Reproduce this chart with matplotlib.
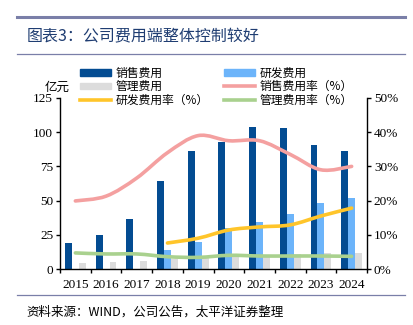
import matplotlib
matplotlib.use("Agg")
import matplotlib.pyplot as plt
import numpy as np
from matplotlib.lines import Line2D
from matplotlib.patches import Patch, PathPatch
from matplotlib.path import Path

plt.rcParams["font.family"] = ["Liberation Serif", "Noto Sans CJK SC"]

years = ["2015", "2016", "2017", "2018", "2019", "2020", "2021", "2022", "2023", "2024"]
sales_exp = [19, 25, 36.5, 64, 86.5, 93, 104, 103, 91, 86]
rd_exp = [0, 0, 0, 14, 20, 30, 34, 40, 48, 52]
admin_exp = [4.5, 5, 6, 7, 8, 9, 8.5, 11, 11.5, 11.5]
sales_rate = [19.9, 21.3, 26.6, 34.0, 39.0, 37.5, 37.5, 33.5, 29.0, 30.0]
rd_rate = [None, None, None, 7.6, 9.0, 11.4, 12.3, 12.9, 15.5, 17.8]
admin_rate = [4.7, 4.4, 4.4, 3.6, 3.4, 4.0, 3.8, 3.8, 3.8, 3.7]

C_SALES = "#034C92"
C_RD = "#6CB4FA"
C_ADMIN = "#DCDCDC"
C_SRATE = "#F4A0A0"
C_RRATE = "#FFC52A"
C_ARATE = "#A9D18E"
C_TITLE = "#1F3D72"
C_RULE = "#7A7FA8"


def smooth_path(xs, ys):
    # Catmull-Rom style bezier through the points, like Excel's smoothed line
    pts = [(x, y) for x, y in zip(xs, ys) if y is not None]
    verts = [pts[0]]
    codes = [Path.MOVETO]
    for i in range(len(pts) - 1):
        p0 = pts[i - 1] if i > 0 else pts[i]
        p1, p2 = pts[i], pts[i + 1]
        p3 = pts[i + 2] if i + 2 < len(pts) else pts[i + 1]
        c1 = (p1[0] + (p2[0] - p0[0]) / 6, p1[1] + (p2[1] - p0[1]) / 6)
        c2 = (p2[0] - (p3[0] - p1[0]) / 6, p2[1] - (p3[1] - p1[1]) / 6)
        verts += [c1, c2, p2]
        codes += [Path.CURVE4] * 3
    return Path(verts, codes)


fig = plt.figure(figsize=(4.13, 3.25), dpi=100)
ax = fig.add_axes([0.1453, 0.1723, 0.7433, 0.5262])
ax2 = ax.twinx()

x = np.arange(len(years))
w = 0.225
ax.bar(x - w, sales_exp, w, color=C_SALES, zorder=2)
ax.bar(x, rd_exp, w, color=C_RD, zorder=2)
ax.bar(x + w, admin_exp, w, color=C_ADMIN, zorder=2)

for vals, col in [(sales_rate, C_SRATE), (rd_rate, C_RRATE), (admin_rate, C_ARATE)]:
    ax2.add_patch(PathPatch(smooth_path(x, vals), facecolor="none", edgecolor=col,
                            lw=2.6, capstyle="round", zorder=3))

ax.set_xlim(-0.5, len(years) - 0.5)
ax.set_ylim(0, 125)
ax2.set_ylim(0, 50)
ax.set_yticks(np.arange(0, 126, 25))
ax2.set_yticks(np.arange(0, 51, 10))
ax2.set_yticklabels([f"{v}%" for v in range(0, 51, 10)])
ax.set_xticks(x)
ax.set_xticklabels(years)
ax.set_xticks(np.arange(-0.5, len(years), 1), minor=True)
ax.tick_params(axis="x", which="major", length=0, pad=7, labelsize=9.5)
ax.tick_params(axis="x", which="minor", length=3, direction="out", width=1)
ax.tick_params(axis="y", length=3, width=1, labelsize=9.5, pad=2)
ax2.tick_params(axis="y", length=3, width=1, labelsize=9.5, pad=2)

for a in (ax, ax2):
    a.spines["top"].set_visible(False)
    for s in ("left", "right", "bottom"):
        a.spines[s].set_linewidth(1)
ax.spines["right"].set_visible(False)
ax2.spines["left"].set_visible(False)
ax2.spines["bottom"].set_visible(False)

fig.text(0.109, 0.732, "亿元", fontsize=9, ha="left", va="center",
         family=["Noto Sans CJK SC"])

# legend filled column by column: left column first, then right column
handles = [
    Patch(color=C_SALES), Patch(color=C_ADMIN), Line2D([], [], color=C_RRATE, lw=2.6),
    Patch(color=C_RD), Line2D([], [], color=C_SRATE, lw=2.6), Line2D([], [], color=C_ARATE, lw=2.6),
]
labels = ["销售费用", "管理费用", "研发费用率（%）", "研发费用", "销售费用率（%）", "管理费用率（%）"]
leg = fig.legend(handles, labels, ncol=2, loc="upper left", bbox_to_anchor=(0.168, 0.828),
                 frameon=False, handlelength=2.6, handleheight=0.5,
                 handletextpad=0.4, columnspacing=1.3, labelspacing=0.06,
                 prop={"family": ["Noto Sans CJK SC"], "size": 8.5})

# title block rules
fig.add_artist(Line2D([0.041, 0.98], [0.948, 0.948], color=C_RULE, lw=2.2))
fig.add_artist(Line2D([0.041, 0.98], [0.834, 0.834], color=C_RULE, lw=0.9))
fig.add_artist(Line2D([0.041, 0.98], [0.092, 0.092], color=C_RULE, lw=0.9))
fig.text(0.065, 0.887, "图表3：公司费用端整体控制较好", fontsize=11.5, color=C_TITLE,
         ha="left", va="center", family=["Noto Sans CJK SC"])
fig.text(0.065, 0.04, "资料来源：WIND，公司公告，太平洋证券整理", fontsize=9, style="italic",
         ha="left", va="center", family=["Noto Sans CJK SC", "Liberation Serif"])

fig.savefig("out.png", dpi=100)
